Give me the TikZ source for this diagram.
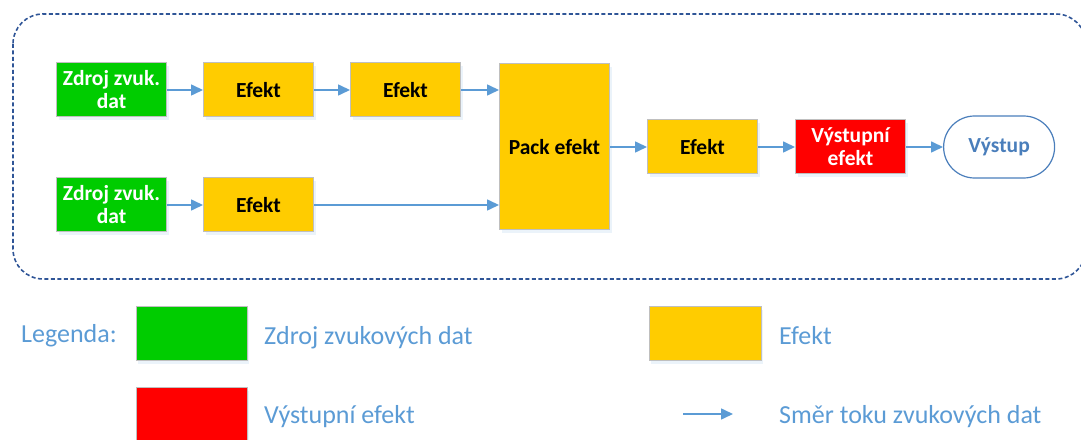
\documentclass[tikz,border=0pt]{standalone}
\usepackage{fontspec}
\setmainfont{Carlito}
\usetikzlibrary{positioning, shadows, arrows.meta}

\definecolor{srcgreen}{RGB}{0,204,0}
\definecolor{fxyellow}{RGB}{255,204,0}
\definecolor{outred}{RGB}{255,0,0}
\definecolor{flowblue}{RGB}{91,155,213}
\definecolor{sinkblue}{RGB}{74,126,187}
\definecolor{frameblue}{RGB}{47,85,151}
\definecolor{boxgray}{RGB}{191,191,191}

\tikzset{
  font=\fontsize{21.5}{23}\selectfont\bfseries,
  % Set arrowhead
  >={Triangle[length=12pt,width=11pt]},
  % General block
  block/.style={draw=boxgray, line width=1pt, minimum width=110pt,
    minimum height=54pt, inner sep=0pt, align=center,
    drop shadow={shadow xshift=2pt, shadow yshift=-3pt, opacity=0.12,
      fill=flowblue}},
  % Audio source
  srcbox/.style={block, fill=srcgreen, text=white},
  % Effect
  fxbox/.style={block, fill=fxyellow},
  % Output effect
  outbox/.style={block, fill=outred, text=white},
  % Final output
  sinkbox/.style={draw=sinkblue, line width=1.2pt, rounded corners=31pt,
    minimum width=111pt, minimum height=62pt, text=sinkblue},
  % Data flow
  flow/.style={->, draw=flowblue, line width=1.6pt},
  % Legend labels
  legend/.style={font=\fontsize{26}{28}\selectfont, text=flowblue,
    anchor=base west, inner sep=0pt},
}

\begin{document}
\begin{tikzpicture}[x=1pt, y=1pt, node distance=36pt]
  \useasboundingbox (0,0) rectangle (1081,439);

  % Processing chain
  \draw[frameblue, line width=1.6pt, dash pattern=on 4pt off 2.5pt,
    rounded corners=30pt] (13,425) rectangle (1086,160);

  \node[srcbox] (src1) at (111.5,349) {Zdroj zvuk.\\dat};
  \node[fxbox, right=of src1] (fx1) {Efekt};
  \node[fxbox, right=of fx1] (fx2) {Efekt};

  \node[fxbox, below=60pt of fx1] (fx3) {Efekt};
  \node[srcbox, left=of fx3] (src2) {Zdroj zvuk.\\dat};

  \node[fxbox, minimum height=166pt] (pack) at (554.5,292) {Pack efekt};
  \node[fxbox, right=37pt of pack] (fx4) {Efekt};
  \node[outbox, right=37pt of fx4] (vyst) {Výstupní\\efekt};
  \node[sinkbox, right=37pt of vyst] (sink) {Výstup};

  \draw[flow] (src1) -- (fx1);
  \draw[flow] (fx1) -- (fx2);
  \draw[flow] (fx2) -- (pack.west |- fx2);
  \draw[flow] (src2) -- (fx3);
  \draw[flow] (fx3) -- (pack.west |- fx3);
  \draw[flow] (pack) -- (fx4);
  \draw[flow] (fx4) -- (vyst);
  \draw[flow] (vyst) -- (sink);

  % Legend
  \node[legend] (leg) at (21,96) {Legenda:};

  \node[srcbox, minimum width=111pt] (legsrc) at (191.5,105) {};
  \node[legend] (legsrctxt) at (264,94) {Zdroj zvukových dat};

  \node[outbox, minimum width=111pt] (legout) at (191.5,24) {};
  \node[legend] (legouttxt) at (264,16) {Výstupní efekt};

  \node[fxbox, minimum width=112pt] (legfx) at (705,105) {};
  \node[legend] (legfxtxt) at (779,94) {Efekt};

  \coordinate (legA) at (683,25);
  \coordinate (legB) at (733,25);
  \draw[flow] (legA) -- (legB);
  \node[legend] (legflowtxt) at (779,16) {Směr toku zvukových dat};
\end{tikzpicture}
\end{document}
